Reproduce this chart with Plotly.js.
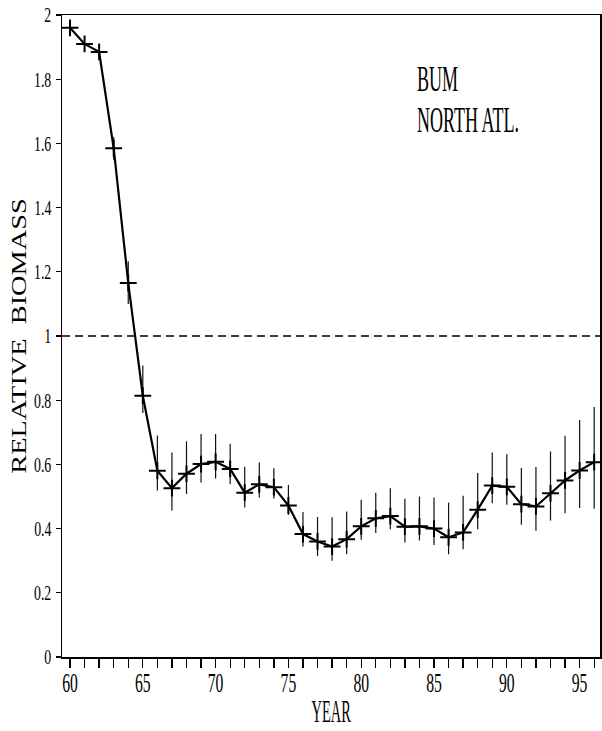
<!DOCTYPE html>
<html>
<head>
<meta charset="utf-8">
<script src="https://cdn.plot.ly/plotly-3.0.1.min.js"></script>
<style>
  html, body { margin: 0; padding: 0; background: #fff; }
  #chart { width: 602px; height: 731px; }
</style>
</head>
<body>
<div id="chart"></div>
<script>
// Relative biomass of blue marlin (BUM), North Atlantic, 1960-1996
const years = [60,61,62,63,64,65,66,67,68,69,70,71,72,73,74,75,76,77,78,
               79,80,81,82,83,84,85,86,87,88,89,90,91,92,93,94,95,96];

const biomass = [1.960,1.910,1.885,1.585,1.165,0.814,0.580,0.526,0.571,0.601,
                 0.608,0.586,0.512,0.538,0.529,0.472,0.383,0.360,0.344,0.367,
                 0.407,0.432,0.439,0.406,0.407,0.400,0.373,0.388,0.459,0.534,
                 0.530,0.476,0.469,0.510,0.550,0.581,0.607];

// upper and lower bounds of the confidence interval
const upper = [1.960,1.910,1.885,1.620,1.233,0.908,0.690,0.637,0.672,0.695,
               0.695,0.664,0.593,0.606,0.588,0.536,0.452,0.436,0.435,0.453,
               0.490,0.512,0.526,0.493,0.500,0.497,0.481,0.502,0.573,0.637,
               0.632,0.589,0.592,0.640,0.689,0.738,0.779];

const lower = [1.960,1.910,1.885,1.550,1.100,0.760,0.519,0.456,0.508,0.544,
               0.556,0.538,0.466,0.497,0.494,0.443,0.344,0.315,0.300,0.320,
               0.365,0.386,0.398,0.357,0.363,0.349,0.320,0.336,0.398,0.479,
               0.474,0.412,0.393,0.425,0.448,0.464,0.462];

const referenceLevel = 1;
const xTickVals = [60,65,70,75,80,85,90,95];
const yTickVals = [0,0.2,0.4,0.6,0.8,1,1.2,1.4,1.6,1.8,2];
const yTickText = ['0','0.2','0.4','0.6','0.8','1','1.2','1.4','1.6','1.8','2'];

const serif = '"Liberation Serif", "DejaVu Serif", serif';

const trace = {
  x: years,
  y: biomass,
  type: 'scatter',
  mode: 'lines+markers',
  line: { color: '#000', width: 2.2 },
  marker: { symbol: 'cross-thin-open', size: 12, line: { color: '#000', width: 2 } },
  error_y: {
    type: 'data',
    symmetric: false,
    array: upper.map((u, i) => u - biomass[i]),
    arrayminus: lower.map((l, i) => biomass[i] - l),
    color: '#111',
    thickness: 1.2,
    width: 0
  },
  hoverinfo: 'x+y',
  showlegend: false
};

const layout = {
  width: 602,
  height: 731,
  margin: { l: 62, r: 2, t: 15, b: 74 },
  paper_bgcolor: '#fff',
  plot_bgcolor: '#fff',
  font: { family: serif, color: '#000' },
  xaxis: {
    range: [59.45, 96.4],
    tickmode: 'array',
    tickvals: xTickVals,
    ticks: 'outside',
    ticklen: 9,
    tickwidth: 1.3,
    tickcolor: '#000',
    minor: { dtick: 1, tick0: 60, ticks: 'outside', ticklen: 9, tickwidth: 1.3, tickcolor: '#000' },
    tickfont: { family: serif, size: 27, color: '#000' },
    showgrid: false,
    zeroline: false,
    showline: true,
    linecolor: '#000',
    linewidth: 1.5,
    mirror: true,
    title: { text: 'YEAR', font: { family: serif, size: 32, color: '#000' }, standoff: 8 }
  },
  yaxis: {
    range: [0, 2],
    tickmode: 'array',
    tickvals: yTickVals,
    ticktext: yTickText,
    ticks: 'outside',
    ticklen: 5,
    tickwidth: 1.3,
    tickcolor: '#000',
    tickfont: { family: serif, size: 21, color: '#000' },
    showgrid: false,
    zeroline: false,
    showline: true,
    linecolor: '#000',
    linewidth: 1.5,
    mirror: true,
    title: { text: 'RELATIVE  BIOMASS', font: { family: serif, size: 21, color: '#000' } }
  },
  shapes: [{
    type: 'line', xref: 'paper', x0: 0, x1: 1, yref: 'y', y0: referenceLevel, y1: referenceLevel,
    line: { color: '#000', width: 1.5, dash: '8px,5px' }
  }],
  annotations: [
    { text: 'BUM', xref: 'paper', yref: 'paper', x: 0.656, y: 0.935,
      xanchor: 'left', yanchor: 'top', showarrow: false,
      font: { family: serif, size: 36, color: '#000' } },
    { text: 'NORTH ATL.', xref: 'paper', yref: 'paper', x: 0.656, y: 0.871,
      xanchor: 'left', yanchor: 'top', showarrow: false,
      font: { family: serif, size: 36, color: '#000' } }
  ]
};

// Narrow (or widen) the serif glyphs along their baseline and nudge them,
// so the lettering reads tall and condensed like the plotter font.
function reshape(selector, factor, origin, dx, dy) {
  document.querySelectorAll(selector).forEach(t => {
    const b = t.getBBox();
    let ox = b.x + b.width / 2;
    if (origin === 'left') ox = b.x;
    if (origin === 'right') ox = b.x + b.width;
    const tr = t.getAttribute('transform') || '';
    t.setAttribute('transform',
      tr + ' translate(' + (dx || 0) + ',' + (dy || 0) + ')' +
      ' translate(' + ox + ',0) scale(' + factor + ',1) translate(' + (-ox) + ',0)');
  });
}

Plotly.newPlot('chart', [trace], layout, { staticPlot: true }).then(() => {
  reshape('.xtick text', 0.58, 'center', 0, -8);
  reshape('.ytick text', 0.66, 'right', 0, 0);
  reshape('.g-xtitle text', 0.45, 'center', 0, -2);
  reshape('.g-ytitle text', 1.35, 'center', 0, 7);
  reshape('.annotation-text', 0.5, 'left', 0, 0);
});
</script>
</body>
</html>
